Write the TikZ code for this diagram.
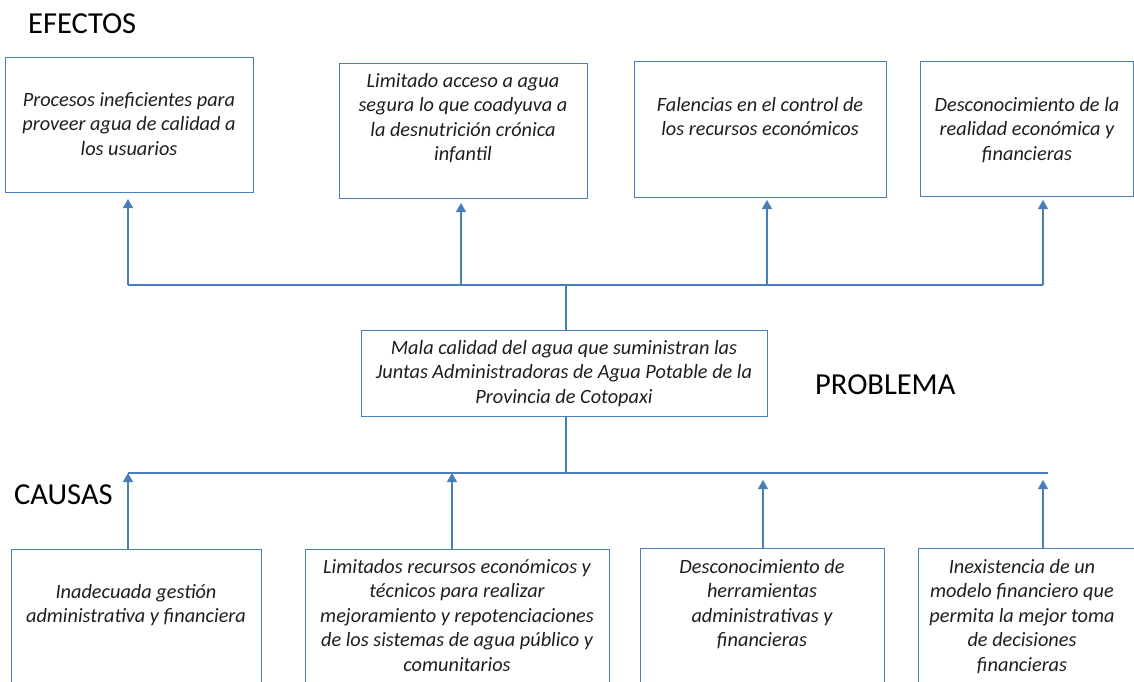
\documentclass[tikz,border=0pt]{standalone}
\usepackage{fontspec}
\setmainfont{Carlito}
\usetikzlibrary{arrows.meta}
\definecolor{ln}{HTML}{4A7EBB}
\definecolor{tx}{HTML}{1E1E1E}
\begin{document}
\begin{tikzpicture}[x=1pt,y=-1pt,
  box/.style={draw=ln, line width=1pt, rectangle, anchor=north west, inner sep=0pt},
  txt/.style={anchor=north, inner sep=0pt, align=center, text=tx, font=\fontsize{20.3}{24.5}\selectfont\itshape},
  head/.style={anchor=base west, inner sep=0pt, text=black, font=\fontsize{30.5}{34}\selectfont},
  conn/.style={draw=ln, line width=1.1pt},
  arr/.style={conn, -{Triangle[length=9pt,width=10pt]}}]
\useasboundingbox (0,0) rectangle (1134,681);
\clip (0,0) rectangle (1134,681);

% headings
\node[head] (hef) at (28,33) {EFECTOS};
\node[head] (hpr) at (815,394) {PROBLEMA};
\node[head] (hca) at (14,504) {CAUSAS};

% effect boxes
\node[box, minimum width=248pt, minimum height=135pt] (e1) at (5,57) {};
\node[box, minimum width=248pt, minimum height=135pt] (e2) at (339,63) {};
\node[box, minimum width=252pt, minimum height=136pt] (e3) at (634,61) {};
\node[box, minimum width=213pt, minimum height=135pt] (e4) at (920,61) {};

\node[txt] (e1t) at (129,89) {\strut Procesos ineficientes para\\proveer agua de calidad a\\los usuarios};
\node[txt] (e2t) at (463,70) {\strut Limitado acceso a agua\\segura lo que coadyuva a\\la desnutrición crónica\\infantil};
\node[txt] (e3t) at (760,94) {\strut Falencias en el control de\\los recursos económicos};
\node[txt] (e4t) at (1027,94) {\strut Desconocimiento de la\\realidad económica y\\financieras};

% problem box
\node[box, minimum width=406pt, minimum height=86pt] (p) at (361,330) {};
\node[txt] (pt) at (564,337) {\strut Mala calidad del agua que suministran las\\Juntas Administradoras de Agua Potable de la\\Provincia de Cotopaxi};

% cause boxes
\node[box, minimum width=250pt, minimum height=150pt] (c1) at (11,549) {};
\node[box, minimum width=304pt, minimum height=150pt] (c2) at (305,549) {};
\node[box, minimum width=244pt, minimum height=150pt] (c3) at (640,548) {};
\node[box, minimum width=230pt, minimum height=150pt] (c4) at (918,548) {};

\node[txt] (c1t) at (136,581) {\strut Inadecuada gestión\\administrativa y financiera};
\node[txt] (c2t) at (457,556) {\strut Limitados recursos económicos y\\técnicos para realizar\\mejoramiento y repotenciaciones\\de los sistemas de agua público y\\comunitarios};
\node[txt] (c3t) at (762,556) {\strut Desconocimiento de\\herramientas\\administrativas y\\financieras};
\node[txt] (c4t) at (1022,556) {\strut Inexistencia de un\\modelo financiero que\\permita la mejor toma\\de decisiones\\financieras};

% effect connectors
\coordinate (jt) at (566,285);
\coordinate (a1) at (128,285);
\coordinate (a2) at (461,285);
\coordinate (a3) at (767,285);
\coordinate (a4) at (1043,285);
\draw[conn] (a1) -- (a4);
\draw[conn] (jt) -- (jt |- p.north);
\draw[arr, shorten >=6pt] (a1) -- (a1 |- e1.south);
\draw[arr, shorten >=4pt] (a2) -- (a2 |- e2.south);
\draw[arr, shorten >=2pt] (a3) -- (a3 |- e3.south);
\draw[arr, shorten >=3pt] (a4) -- (a4 |- e4.south);

% cause connectors
\coordinate (jb) at (566,473);
\coordinate (b1) at (128,473);
\coordinate (b2) at (452,473);
\coordinate (b3) at (763,480);
\coordinate (b4) at (1043,480);
\coordinate (bend) at (1048,473);
\draw[conn] (jb |- p.south) -- (jb);
\draw[conn] (b1) -- (bend);
\draw[arr] (b1 |- c1.north) -- (b1);
\draw[arr] (b2 |- c2.north) -- (b2);
\draw[arr] (b3 |- c3.north) -- (b3);
\draw[arr] (b4 |- c4.north) -- (b4);
\end{tikzpicture}
\end{document}
